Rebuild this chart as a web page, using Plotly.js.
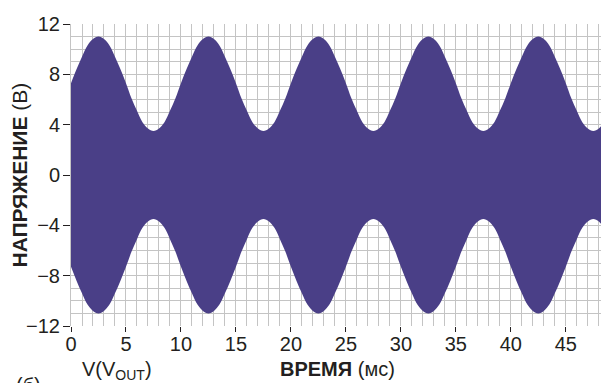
<!DOCTYPE html>
<html><head><meta charset="utf-8">
<script src="https://cdn.plot.ly/plotly-3.0.1.min.js"></script>
<style>html,body{margin:0;padding:0;background:#fff}#c{width:601px;height:383px}</style>
</head><body><div id="c"></div>
<script>
// time samples (ms)
var timeMs = [0,0.5,1,1.5,2,2.5,3,3.5,4,4.5,5,5.5,6,6.5,7,7.5,8,8.5,9,9.5,
10,10.5,11,11.5,12,12.5,13,13.5,14,14.5,15,15.5,16,16.5,17,17.5,18,18.5,19,19.5,
20,20.5,21,21.5,22,22.5,23,23.5,24,24.5,25,25.5,26,26.5,27,27.5,28,28.5,29,29.5,
30,30.5,31,31.5,32,32.5,33,33.5,34,34.5,35,35.5,36,36.5,37,37.5,38,38.5,39,39.5,
40,40.5,41,41.5,42,42.5,43,43.5,44,44.5,45,45.5,46,46.5,47,47.5,48,48.5];
// upper envelope of V(VOUT), volts
var upperV = [7.3,8.4,9.4,10.3,10.8,11.0,10.8,10.3,9.4,8.4,7.3,6.1,5.1,4.2,3.7,3.5,3.7,4.2,5.1,6.1,
7.3,8.4,9.4,10.3,10.8,11.0,10.8,10.3,9.4,8.4,7.3,6.1,5.1,4.2,3.7,3.5,3.7,4.2,5.1,6.1,
7.3,8.4,9.4,10.3,10.8,11.0,10.8,10.3,9.4,8.4,7.3,6.1,5.1,4.2,3.7,3.5,3.7,4.2,5.1,6.1,
7.3,8.4,9.4,10.3,10.8,11.0,10.8,10.3,9.4,8.4,7.3,6.1,5.1,4.2,3.7,3.5,3.7,4.2,5.1,6.1,
7.3,8.4,9.4,10.3,10.8,11.0,10.8,10.3,9.4,8.4,7.3,6.1,5.1,4.2,3.7,3.5,3.7,4.2];
// lower envelope of V(VOUT), volts
var lowerV = [-7.3,-8.4,-9.4,-10.3,-10.8,-11.0,-10.8,-10.3,-9.4,-8.4,-7.3,-6.1,-5.1,-4.2,-3.7,-3.5,-3.7,-4.2,-5.1,-6.1,
-7.3,-8.4,-9.4,-10.3,-10.8,-11.0,-10.8,-10.3,-9.4,-8.4,-7.3,-6.1,-5.1,-4.2,-3.7,-3.5,-3.7,-4.2,-5.1,-6.1,
-7.3,-8.4,-9.4,-10.3,-10.8,-11.0,-10.8,-10.3,-9.4,-8.4,-7.3,-6.1,-5.1,-4.2,-3.7,-3.5,-3.7,-4.2,-5.1,-6.1,
-7.3,-8.4,-9.4,-10.3,-10.8,-11.0,-10.8,-10.3,-9.4,-8.4,-7.3,-6.1,-5.1,-4.2,-3.7,-3.5,-3.7,-4.2,-5.1,-6.1,
-7.3,-8.4,-9.4,-10.3,-10.8,-11.0,-10.8,-10.3,-9.4,-8.4,-7.3,-6.1,-5.1,-4.2,-3.7,-3.5,-3.7,-4.2];
var xTicks = [0,5,10,15,20,25,30,35,40,45];
var yTicks = [-12,-8,-4,0,4,8,12];
var yTickText = ['\u221212','\u22128','\u22124','0','4','8','12'];

var fillColor = '#4a3f87';
var traces = [
  {x: timeMs, y: lowerV, mode:'lines', line:{color:fillColor, width:0, shape:'spline'}, hoverinfo:'skip', showlegend:false},
  {x: timeMs, y: upperV, mode:'lines', line:{color:fillColor, width:0, shape:'spline'}, fill:'tonexty', fillcolor:fillColor, hoverinfo:'skip', showlegend:false}
];
var fam = 'Liberation Sans, Arial, sans-serif';
var tickFont = {family:fam, size:20, color:'#231f20'};
var labFont = {family:fam, size:20, color:'#231f20'};
var layout = {
  width:601, height:383,
  margin:{l:71, r:0, t:24, b:57},
  paper_bgcolor:'#fff', plot_bgcolor:'#fff',
  font: tickFont,
  xaxis:{range:[0,48.2], tickvals:xTicks, ticktext:xTicks.map(String), ticks:'outside', ticklen:5, tickcolor:'#231f20',
    ticklabelstandoff:-5,
    showgrid:true, gridcolor:'#c4c4c4', gridwidth:1, zeroline:false, showline:false,
    minor:{dtick:1, tick0:0, showgrid:true, gridcolor:'#c4c4c4', gridwidth:1, ticks:''}, tickfont:tickFont},
  yaxis:{range:[-12,12], tickvals:yTicks, ticktext:yTickText, ticks:'outside', ticklen:7, tickcolor:'#231f20',
    ticklabelstandoff:-1,
    showgrid:true, gridcolor:'#c4c4c4', gridwidth:1, zeroline:false, showline:true, linecolor:'#c4c4c4',
    minor:{dtick:1, tick0:0, showgrid:true, gridcolor:'#c4c4c4', gridwidth:1, ticks:''}, tickfont:tickFont},
  annotations:[
    {xref:'paper', yref:'paper', x:-0.099, y:0.5, text:'<b>НАПРЯЖЕНИЕ</b> (В)', textangle:-90, showarrow:false, font:{family:fam, size:21, color:'#231f20'}, xanchor:'center', yanchor:'middle'},
    {xref:'paper', yref:'paper', x:0.503, y:-0.099, text:'<b>ВРЕМЯ</b> (мс)', showarrow:false, font:labFont, xanchor:'center', yanchor:'top'},
    {xref:'paper', yref:'paper', x:0.086, y:-0.099, text:'V(V<sub>OUT</sub>)', showarrow:false, font:labFont, xanchor:'center', yanchor:'top'},
    {xref:'paper', yref:'paper', x:-0.108, y:-0.152, text:'(б)', showarrow:false, font:labFont, xanchor:'left', yanchor:'top'}
  ]
};
Plotly.newPlot('c', traces, layout, {staticPlot:true, displayModeBar:false});
</script></body></html>
